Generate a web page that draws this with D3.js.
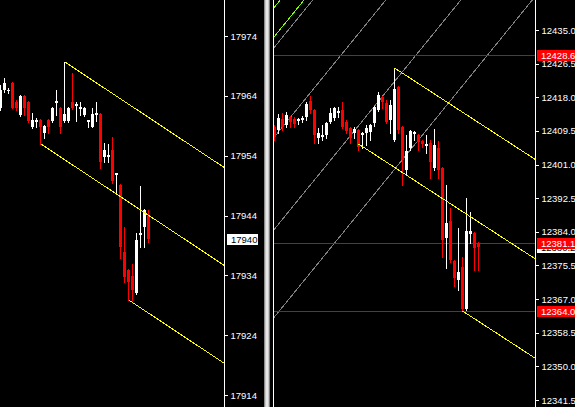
<!DOCTYPE html>
<html><head><meta charset="utf-8">
<script src="https://cdn.jsdelivr.net/npm/d3@7"></script>
<style>html,body{margin:0;padding:0;background:#000;overflow:hidden}</style>
</head><body>
<svg id="c" width="575" height="407"></svg>
<script>
// ---------- LEFT CHART DATA (bars, oldest first) ----------
const leftOpen  = [17962.0,17965.0,17964.8,17966.2,17963.0,17960.8,17964.0,17963.0,17958.8,17959.6,17960.0,17957.8,17960.0,17959.8,17962.8,17962.0,17959.8,17959.8,17963.0,17962.3,17961.8,17960.8,17959.6,17958.8,17960.8,17961.0,17953.8,17953.8,17955.0,17950.8,17949.1,17937.9,17934.9,17933.9,17931.1,17940.8,17942.0,17944.0];
const leftHigh  = [17965.8,17967.0,17965.3,17966.3,17963.3,17964.2,17964.2,17963.2,17961.1,17960.3,17960.1,17959.1,17960.1,17962.1,17965.0,17962.1,17969.7,17962.1,17967.8,17963.0,17963.0,17962.1,17960.0,17962.0,17963.0,17961.1,17956.1,17956.0,17957.1,17951.1,17949.3,17942.0,17935.1,17935.9,17941.0,17949.0,17945.1,17945.0];
const leftLow   = [17961.6,17964.7,17964.5,17962.0,17961.6,17960.6,17960.8,17959.6,17958.6,17958.8,17956.0,17957.0,17957.8,17959.6,17960.8,17957.8,17959.6,17959.6,17961.8,17959.8,17960.8,17960.6,17958.8,17958.8,17959.8,17952.0,17953.0,17953.0,17949.5,17948.0,17936.9,17932.9,17929.9,17929.9,17930.9,17938.8,17938.8,17939.6];
const leftClose = [17965.0,17966.2,17965.0,17962.0,17962.0,17964.0,17962.0,17959.8,17960.0,17960.0,17958.8,17959.0,17958.8,17962.0,17963.2,17958.8,17961.0,17962.0,17962.0,17962.6,17962.1,17962.0,17960.0,17961.0,17961.1,17953.0,17955.0,17954.1,17949.8,17951.1,17938.8,17933.8,17932.9,17931.6,17939.9,17941.1,17945.0,17940.0];
const leftTicks = [17914,17924,17934,17944,17954,17964,17974];
const leftPrice = 17940;
// pitchfork anchors: [bar index, price]
const leftFork = [[10,17956.0],[16,17969.7],[32,17929.9]];

// ---------- RIGHT CHART DATA ----------
const rightOpen  = [12410.5,12409.7,12412.5,12411.0,12413.0,12412.5,12412.0,12412.3,12413.0,12417.1,12414.8,12407.7,12408.0,12408.5,12411.8,12412.8,12414.0,12414.8,12411.8,12410.2,12409.0,12409.7,12408.5,12409.0,12409.2,12411.5,12414.8,12418.1,12416.6,12412.3,12407.2,12420.6,12410.5,12399.6,12405.2,12408.7,12408.5,12407.0,12405.7,12406.4,12400.1,12405.2,12400.1,12382.4,12386.7,12376.6,12371.8,12375.1,12364.6,12383.4,12383.7,12381.2];
const rightHigh  = [12411.0,12413.8,12414.0,12414.3,12413.3,12413.0,12412.8,12413.3,12416.8,12418.3,12415.0,12410.2,12411.0,12411.8,12415.3,12415.5,12415.5,12416.8,12412.3,12410.5,12410.5,12410.0,12409.2,12411.0,12411.2,12415.8,12419.3,12418.3,12417.3,12417.3,12425.4,12420.8,12410.7,12408.5,12409.7,12409.5,12408.7,12407.2,12408.5,12407.2,12410.0,12407.0,12400.4,12395.8,12390.0,12376.9,12385.0,12377.6,12392.5,12389.0,12384.0,12381.4];
const rightLow   = [12407.2,12409.0,12409.7,12410.5,12410.5,12410.5,12411.2,12411.8,12412.3,12414.0,12406.4,12406.4,12407.2,12407.7,12411.5,12412.3,12413.0,12410.2,12409.0,12406.4,12407.7,12404.7,12405.2,12405.9,12407.2,12410.7,12414.5,12415.3,12411.5,12409.0,12407.0,12409.0,12395.8,12398.4,12404.7,12407.2,12404.7,12405.4,12403.9,12397.6,12399.6,12397.6,12377.6,12374.9,12376.4,12370.3,12369.3,12364.0,12364.3,12381.2,12374.3,12374.3];
const rightClose = [12408.0,12412.8,12410.5,12413.5,12411.8,12411.2,12412.5,12412.8,12416.3,12414.8,12408.5,12409.0,12408.5,12411.5,12414.0,12415.3,12414.5,12410.5,12409.5,12407.7,12410.0,12405.4,12409.0,12410.2,12411.0,12415.5,12418.6,12416.8,12411.8,12416.0,12420.1,12409.7,12402.1,12404.4,12409.5,12409.2,12406.7,12406.2,12406.2,12401.6,12405.9,12399.6,12381.9,12386.2,12376.9,12372.3,12373.8,12364.6,12384.2,12384.2,12379.9,12380.2];
const rightTicks = [12341.5,12350.0,12358.5,12367.0,12375.5,12384.0,12392.5,12401.0,12409.5,12418.0,12426.5,12435.0];
const rightPrice = 12380.2;
const rightLevels = [12428.6,12381.1,12364.0];
const rightFork = [[21,12406.2],[30,12425.4],[47,12364.0]];
// parallel trend lines: [[bar, price],[bar, price]]
const grayLines = [
  [[0,12430.7],[40,12480.4]],
  [[0,12408.0],[40,12457.7]],
  [[0,12384.7],[40,12434.4]],
  [[0,12362.5],[40,12412.2]]
];
const greenLines = [
  [[0,12433.4],[40,12483.1]],
  [[0,12440.8],[40,12490.5]]
];

// ---------- DRAW ----------
const W = 575, H = 407;
const svg = d3.select("#c");
svg.append("rect").attr("width", W).attr("height", H).attr("fill", "#000");
const defs = svg.append("defs");
defs.append("clipPath").attr("id","clipL").append("rect").attr("x",0).attr("y",0).attr("width",224).attr("height",H);
defs.append("clipPath").attr("id","clipR").append("rect").attr("x",274).attr("y",0).attr("width",261).attr("height",H);

const FONT = "Liberation Sans, Arial, sans-serif";

const xL = d3.scaleLinear().domain([0, leftOpen.length - 1]).range([0.5, 0.5 + 4 * (leftOpen.length - 1)]);
const yL = d3.scaleLinear().domain([17914, 17974]).range([395, 36]);
const xR = d3.scaleLinear().domain([0, rightOpen.length - 1]).range([274.5, 274.5 + 4 * (rightOpen.length - 1)]);
const yR = d3.scaleLinear().domain([12341.5, 12435]).range([400, 30]);

function candles(g, O, Hh, L, C, xs, ys) {
  const idx = d3.range(O.length);
  const col = i => C[i] >= O[i] ? "#ffffff" : "#ff0000";
  g.selectAll("line.wick").data(idx).join("line").attr("class","wick")
    .attr("x1", i => xs(i)).attr("x2", i => xs(i))
    .attr("y1", i => Math.round(ys(Hh[i]))).attr("y2", i => Math.round(ys(L[i])) + 1)
    .attr("stroke", col).attr("stroke-width", 1).attr("shape-rendering","crispEdges");
  g.selectAll("rect.body").data(idx).join("rect").attr("class","body")
    .attr("x", i => xs(i) - 1.5).attr("width", 3)
    .attr("y", i => Math.round(ys(Math.max(O[i], C[i]))))
    .attr("height", i => Math.max(1, Math.round(ys(Math.min(O[i], C[i]))) - Math.round(ys(Math.max(O[i], C[i])))))
    .attr("fill", col).attr("shape-rendering","crispEdges");
}

function pitchfork(g, fork, xs, ys, xEnd) {
  const P = fork.map(d => [xs(d[0]), ys(d[1])]);
  const mid = [(P[1][0] + P[2][0]) / 2, (P[1][1] + P[2][1]) / 2];
  const slope = (mid[1] - P[0][1]) / (mid[0] - P[0][0]);
  const segs = P.map(p => [p, [xEnd, p[1] + slope * (xEnd - p[0])]]);
  g.selectAll("line.pf").data(segs).join("line").attr("class","pf")
    .attr("x1", d => d[0][0]).attr("y1", d => d[0][1])
    .attr("x2", d => d[1][0]).attr("y2", d => d[1][1])
    .attr("stroke", "#ffff00").attr("stroke-width", 1).attr("shape-rendering","crispEdges");
}

function trendLines(g, lines, xs, ys, x0, x1, color) {
  const segs = lines.map(l => {
    const a = [xs(l[0][0]), ys(l[0][1])], b = [xs(l[1][0]), ys(l[1][1])];
    const s = (b[1] - a[1]) / (b[0] - a[0]);
    return [[x0, a[1] + s * (x0 - a[0])], [x1, a[1] + s * (x1 - a[0])]];
  });
  g.selectAll(null).data(segs).join("line")
    .attr("x1", d => d[0][0]).attr("y1", d => d[0][1])
    .attr("x2", d => d[1][0]).attr("y2", d => d[1][1])
    .attr("stroke", color).attr("stroke-width", 1).attr("shape-rendering","crispEdges");
}

// Left panel
const gL = svg.append("g").attr("clip-path","url(#clipL)");
candles(gL, leftOpen, leftHigh, leftLow, leftClose, xL, yL);
pitchfork(gL, leftFork, xL, yL, 224);

// Right panel
const gR = svg.append("g").attr("clip-path","url(#clipR)");
trendLines(gR, grayLines, xR, yR, 273, 536, "#808080");
trendLines(gR, greenLines, xR, yR, 273, 536, "#7fff00");
gR.selectAll("line.lvl").data(rightLevels).join("line").attr("class","lvl")
  .attr("x1", 274).attr("x2", 535)
  .attr("y1", d => Math.round(yR(d)) + 0.5).attr("y2", d => Math.round(yR(d)) + 0.5)
  .attr("stroke", "#dd0000").attr("stroke-width", 1);
candles(gR, rightOpen, rightHigh, rightLow, rightClose, xR, yR);
pitchfork(gR, rightFork, xR, yR, 535);

// Axes
function styleAxis(g) {
  g.select(".domain").remove();
  g.selectAll(".tick line").attr("stroke", "#fff").attr("shape-rendering","crispEdges");
  g.selectAll(".tick text").attr("fill", "#fff").attr("font-family", FONT).attr("font-size", "9.5px");
}
const axL = svg.append("g").attr("transform", "translate(224.5,0)")
  .call(d3.axisRight(yL).tickValues(leftTicks).tickSize(3).tickPadding(3).tickFormat(d3.format("d")));
styleAxis(axL);
const axR = svg.append("g").attr("transform", "translate(535.5,0)")
  .call(d3.axisRight(yR).tickValues(rightTicks).tickSize(3).tickPadding(3).tickFormat(d3.format(".1f")));
styleAxis(axR);

// frame lines
svg.append("line").attr("x1",224.5).attr("x2",224.5).attr("y1",0).attr("y2",H).attr("stroke","#fff");
svg.append("line").attr("x1",535.5).attr("x2",535.5).attr("y1",0).attr("y2",H).attr("stroke","#fff");
svg.append("line").attr("x1",273.5).attr("x2",273.5).attr("y1",0).attr("y2",H).attr("stroke","#fff");
// splitter
svg.append("rect").attr("x",264).attr("y",0).attr("width",6).attr("height",H).attr("fill","#c8c8c8");
svg.append("rect").attr("x",264).attr("y",0).attr("width",1).attr("height",H).attr("fill","#8a8a8a");
svg.append("rect").attr("x",269).attr("y",0).attr("width",1).attr("height",H).attr("fill","#7a7a7a");
svg.append("rect").attr("x",266).attr("y",0).attr("width",2).attr("height",H).attr("fill","#e6e6e6");

// price labels
function priceLabel(x, w, y, text, bg, fg) {
  const g = svg.append("g");
  g.append("rect").attr("x", x).attr("y", Math.round(y) - 5).attr("width", w).attr("height", 11).attr("fill", bg);
  g.append("text").attr("x", x + 4).attr("y", Math.round(y) + 0.5).attr("dy","0.35em")
    .attr("fill", fg).attr("font-family", FONT).attr("font-size", "9.5px").text(text);
}
priceLabel(227, 31, yL(leftPrice), d3.format("d")(leftPrice), "#fff", "#000");
priceLabel(537, 38, yR(rightPrice), d3.format(".1f")(rightPrice), "#fff", "#000");
rightLevels.forEach(v => priceLabel(537, 38, yR(v), d3.format(".1f")(v), "#ff0000", "#fff"));
</script>
</body></html>
